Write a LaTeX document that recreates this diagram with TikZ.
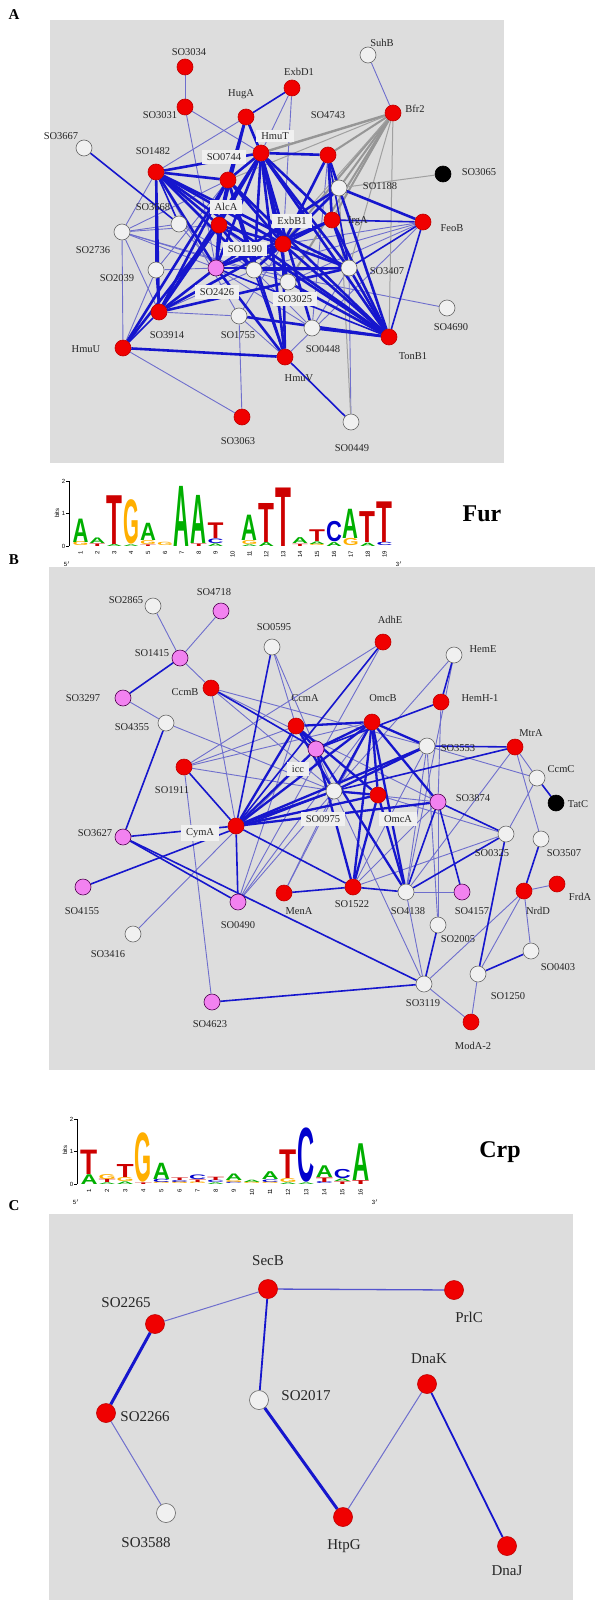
\documentclass[tikz,border=0pt]{standalone}
\usepackage{fontspec}
\setmainfont{Liberation Serif}
\newfontfamily\logofont{Liberation Sans}
\usepackage{graphicx}
\definecolor{bgg}{RGB}{221,221,221}
\definecolor{eb}{RGB}{22,22,205}
\definecolor{el}{RGB}{110,110,205}
\definecolor{eg}{RGB}{150,150,150}
\definecolor{nred}{RGB}{240,0,0}
\definecolor{npink}{RGB}{242,130,240}
\definecolor{nwhite}{RGB}{240,240,240}
\definecolor{lgA}{RGB}{0,175,0}
\definecolor{lgC}{RGB}{0,0,205}
\definecolor{lgG}{RGB}{255,175,0}
\definecolor{lgT}{RGB}{205,0,0}
\pgfdeclarelayer{bg}
\pgfdeclarelayer{edges}
\pgfsetlayers{bg,edges,main}
\newcommand\setlogo[4]{\def\LX{#1}\def\LW{#2}\def\LY{#3}\def\LB{#4}}
\newcommand\LL[5]{%
 \pgfmathsetmacro\lx{\LX+(#1-1)*\LW+0.5}%
 \pgfmathsetmacro\ly{\LY-(#2)*\LB}%
 \pgfmathsetmacro\lh{(#3)*\LB}%
 \pgfmathsetmacro\lw{\LW-1}%
 \node[inner sep=0,outer sep=0,anchor=south west,text=#5] at (\lx,\ly) {\resizebox{\lw pt}{\lh pt}{\logofont\bfseries #4}};}
\tikzset{
 nd/.style={circle,inner sep=0,minimum size=16pt,line width=0.6pt},
 rn/.style={nd,fill=nred,draw=red!75!black},
 wn/.style={nd,fill=nwhite,draw=gray!80!black},
 pn/.style={nd,fill=npink,draw=violet!60!black},
 kn/.style={nd,fill=black,draw=black},
 cr/.style={rn,minimum size=19pt},
 cw/.style={wn,minimum size=19pt},
 lab/.style={font=\fontsize{10.5}{12}\selectfont,inner sep=1pt,text=black!85},
 labb/.style={lab,fill=nwhite,inner xsep=5pt,inner ysep=3pt},
 labc/.style={font=\fontsize{15}{17}\selectfont,inner sep=1pt,text=black!85},
 panel/.style={font=\fontsize{15}{17}\selectfont\bfseries},
 ethick/.style={draw=eb,line width=2.6pt},
 emed/.style={draw=eb,line width=1.6pt},
 ethin/.style={draw=el,line width=0.9pt},
 egray/.style={draw=eg,line width=2pt},
 egthin/.style={draw=eg!90,line width=1pt},
 tf/.style={font=\fontsize{6}{7}\selectfont\logofont,inner sep=0.5pt},
 motif/.style={font=\fontsize{24}{26}\selectfont\bfseries}
}
\begin{document}
\begin{tikzpicture}[x=1pt,y=-1pt]
\useasboundingbox (0,0) rectangle (600,1600);
\begin{pgfonlayer}{bg}
\fill[white] (0,0) rectangle (600,1600);
\fill[bgg] (50,20) rectangle (504,463);
\fill[bgg] (49,567) rectangle (595,1070);
\fill[bgg] (49,1214) rectangle (573,1600);
\end{pgfonlayer}
\node[panel] (pA) at (14,15) {A};
\node[panel] (pB) at (14,560) {B};
\node[panel] (pC) at (14,1206) {C};

% ================= Panel A nodes
\node[rn] (SO3034) at (185,67) {};
\node[rn] (SO3031) at (185,107) {};
\node[rn] (HugA) at (246,117) {};
\node[rn] (ExbD1) at (292,88) {};
\node[wn] (SuhB) at (368,55) {};
\node[rn] (Bfr2) at (393,113) {};
\node[wn] (SO3667) at (84,148) {};
\node[rn] (SO1482) at (156,172) {};
\node[rn] (HmuT) at (261,153) {};
\node[rn] (SO0744) at (228,180) {};
\node[rn] (SO4743) at (328,155) {};
\node[kn] (SO3065) at (443,174) {};
\node[wn] (SO1188) at (339,188) {};
\node[wn] (SO3668) at (179,224) {};
\node[rn] (AlcA) at (219,225) {};
\node[rn] (ExbB1) at (283,244) {};
\node[rn] (IrgA) at (332,220) {};
\node[rn] (FeoB) at (423,222) {};
\node[wn] (SO2736) at (122,232) {};
\node[wn] (SO1190) at (254,270) {};
\node[wn] (SO2039) at (156,270) {};
\node[pn] (SO2426) at (216,268) {};
\node[wn] (SO3025) at (288,282) {};
\node[wn] (SO3407) at (349,268) {};
\node[wn] (SO4690) at (447,308) {};
\node[rn] (SO3914) at (159,312) {};
\node[wn] (SO1755) at (239,316) {};
\node[wn] (SO0448) at (312,328) {};
\node[rn] (TonB1) at (389,337) {};
\node[rn] (HmuU) at (123,348) {};
\node[rn] (HmuV) at (285,357) {};
\node[rn] (SO3063) at (242,417) {};
\node[wn] (SO0449) at (351,422) {};

% Panel A edges
\begin{pgfonlayer}{edges}
\foreach \a/\b in {SO3034/SO3031,SO3031/HmuT,SO3031/SO2426,HugA/SO1482,SuhB/Bfr2,ExbD1/HmuT,ExbD1/ExbB1,HmuU/SO3063,SO3063/SO1755,SO0449/SO3407,SO4690/SO1190,SO2736/SO1482,SO2736/SO0744,SO2736/AlcA,SO2736/SO2426,SO2736/SO1190,SO2736/SO3914,SO2736/SO3025,SO2736/SO3668,SO2039/HmuU,SO2039/SO0744,SO2039/SO2426,FeoB/SO1190,FeoB/SO3025,FeoB/HmuV,FeoB/ExbB1,SO1755/SO3914,SO1755/ExbB1,SO1755/SO1482,SO0448/SO4743,SO0448/SO2426,SO0448/SO1190,SO3025/SO3914,SO3025/SO1482,SO3668/SO1190,SO3668/SO2426,SO1190/SO3914,HmuV/SO1755,SO3407/SO3025,SO3407/SO0448,SO2736/HmuU}
 \draw[ethin] (\a) -- (\b);
\foreach \a/\b in {Bfr2/SO4743,Bfr2/SO1188,Bfr2/IrgA,Bfr2/ExbB1,Bfr2/SO3025}
 \draw[egray] (\a) -- (\b);
\draw[egray,line width=2.4pt] (Bfr2) -- (HmuT);
\foreach \a/\b in {Bfr2/SO3407,Bfr2/SO0744,Bfr2/TonB1,SO3065/SO1188,SO1188/SO0449,Bfr2/SO1190}
 \draw[egthin] (\a) -- (\b);
\foreach \a/\b in {HugA/ExbD1,SO3667/SO3668,SO1482/SO2039,SO2039/SO3914,FeoB/TonB1,FeoB/IrgA,FeoB/SO3407,HmuU/SO3914,TonB1/SO2426,HmuV/SO1190,SO0449/HmuV,SO1482/SO3668,SO4743/SO3407}
 \draw[emed] (\a) -- (\b);
\foreach \a/\b in {HugA/SO0744,HugA/HmuT,HugA/AlcA,SO1482/HmuT,SO1482/SO0744,SO1482/AlcA,SO1482/ExbB1,SO1482/SO2426,SO1482/SO1190,SO1482/TonB1,SO1482/SO3407,SO1482/SO3914,HmuT/SO0744,HmuT/AlcA,HmuT/ExbB1,HmuT/SO4743,HmuT/IrgA,HmuT/SO3407,HmuT/TonB1,HmuT/SO3914,HmuT/HmuV,HmuT/SO2426,HmuT/SO1190,HmuT/SO3025,HmuT/SO0448,SO0744/AlcA,SO0744/ExbB1,SO0744/SO3914,SO0744/TonB1,SO0744/SO2426,SO0744/HmuV,AlcA/ExbB1,AlcA/SO2426,AlcA/SO3914,AlcA/TonB1,AlcA/SO1190,ExbB1/IrgA,ExbB1/SO2426,ExbB1/SO3407,ExbB1/TonB1,ExbB1/SO1190,ExbB1/SO3914,ExbB1/HmuV,SO4743/SO1188,SO4743/IrgA,SO4743/ExbB1,IrgA/SO3407,IrgA/TonB1,IrgA/SO2426,FeoB/SO1188,SO3914/SO2426,SO3914/SO3407,HmuU/HmuV,HmuU/SO0744,HmuU/AlcA,SO3407/TonB1,SO3407/SO2426,SO3407/SO1190,TonB1/SO0448,TonB1/SO1755,TonB1/SO3025,HmuV/SO2426,SO1188/SO2426,SO1188/ExbB1,SO1188/TonB1,SO0744/SO1190}
 \draw[ethick] (\a) -- (\b);
\end{pgfonlayer}

% Panel A labels
\node[lab] (lSO3034) at (189,52) {SO3034};
\node[lab] (lSO3031) at (160,115) {SO3031};
\node[lab] (lHugA) at (241,94) {HugA};
\node[lab] (lExbD1) at (299,72) {ExbD1};
\node[lab] (lSuhB) at (382,43) {SuhB};
\node[lab] (lBfr2) at (415,109) {Bfr2};
\node[lab] (lSO3667) at (61,136) {SO3667};
\node[lab] (lSO1482) at (153,151) {SO1482};
\node[labb] (lHmuT) at (275,136) {HmuT};
\node[labb] (lSO0744) at (224,157) {SO0744};
\node[lab] (lSO4743) at (328,115) {SO4743};
\node[lab] (lSO3065) at (479,172) {SO3065};
\node[lab] (lSO1188) at (380,186) {SO1188};
\node[lab] (lSO3668) at (153,207) {SO3668};
\node[labb] (lAlcA) at (226,207) {AlcA};
\node[labb] (lExbB1) at (292,221) {ExbB1};
\node[lab] (lIrgA) at (358,221) {IrgA};
\node[lab] (lFeoB) at (452,228) {FeoB};
\node[lab] (lSO2736) at (93,250) {SO2736};
\node[labb] (lSO1190) at (245,249) {SO1190};
\node[lab] (lSO2039) at (117,278) {SO2039};
\node[labb] (lSO2426) at (217,292) {SO2426};
\node[labb] (lSO3025) at (295,299) {SO3025};
\node[lab] (lSO3407) at (387,271) {SO3407};
\node[lab] (lSO4690) at (451,327) {SO4690};
\node[lab] (lSO3914) at (167,335) {SO3914};
\node[lab] (lSO1755) at (238,335) {SO1755};
\node[lab] (lSO0448) at (323,349) {SO0448};
\node[lab] (lTonB1) at (413,356) {TonB1};
\node[lab] (lHmuU) at (86,349) {HmuU};
\node[lab] (lHmuV) at (299,378) {HmuV};
\node[lab] (lSO3063) at (238,441) {SO3063};
\node[lab] (lSO0449) at (352,448) {SO0449};

% ================= Fur logo
\setlogo{72}{16.9}{546}{32.5}
\draw[black,line width=0.5pt] (69,546) -- (69,481);
\foreach \v in {0,1,2}{\draw[black,line width=0.5pt] (66,546-\v*32.5) -- (69,546-\v*32.5);
 \node[tf,anchor=east] at (66,546-\v*32.5) {\v};}
\node[tf,rotate=90] (furbits) at (57,513) {bits};
\foreach \i in {1,...,19}{\node[tf,rotate=90,anchor=east] at (72+\i*16.9-8.45,550) {\i};}
\node[tf] (fur5) at (67,564) {5$'$};
\node[tf] (fur3) at (399,564) {3$'$};
\LL{1}{0}{0.12}{G}{lgG}\LL{1}{0.12}{0.72}{A}{lgA}
\LL{2}{0}{0.08}{T}{lgT}\LL{2}{0.08}{0.17}{A}{lgA}
\LL{3}{0}{0.06}{A}{lgA}\LL{3}{0.06}{1.5}{T}{lgT}
\LL{4}{0}{0.05}{A}{lgA}\LL{4}{0.05}{1.35}{G}{lgG}
\LL{5}{0}{0.05}{T}{lgT}\LL{5}{0.05}{0.12}{G}{lgG}\LL{5}{0.17}{0.53}{A}{lgA}
\LL{6}{0}{0.1}{G}{lgG}
\LL{7}{0}{1.85}{A}{lgA}
\LL{8}{0}{0.08}{T}{lgT}\LL{8}{0.08}{1.48}{A}{lgA}
\LL{9}{0}{0.08}{A}{lgA}\LL{9}{0.08}{0.14}{C}{lgC}\LL{9}{0.22}{0.48}{T}{lgT}
\LL{11}{0}{0.05}{A}{lgA}\LL{11}{0.05}{0.12}{G}{lgG}\LL{11}{0.17}{0.78}{A}{lgA}
\LL{12}{0}{0.12}{A}{lgA}\LL{12}{0.12}{1.2}{T}{lgT}
\LL{13}{0}{1.8}{T}{lgT}
\LL{14}{0}{0.07}{T}{lgT}\LL{14}{0.07}{0.18}{A}{lgA}
\LL{15}{0}{0.06}{G}{lgG}\LL{15}{0.06}{0.08}{A}{lgA}\LL{15}{0.14}{0.36}{T}{lgT}
\LL{16}{0}{0.12}{A}{lgA}\LL{16}{0.12}{0.62}{C}{lgC}
\LL{17}{0}{0.22}{G}{lgG}\LL{17}{0.22}{0.9}{A}{lgA}
\LL{18}{0}{0.1}{A}{lgA}\LL{18}{0.1}{0.95}{T}{lgT}
\LL{19}{0}{0.1}{C}{lgC}\LL{19}{0.1}{1.25}{T}{lgT}
\node[motif] (fur) at (482,514) {Fur};

% ================= Panel B nodes
\node[wn] (SO2865) at (153,606) {};
\node[pn] (SO4718) at (221,611) {};
\node[wn] (SO0595) at (272,647) {};
\node[rn] (AdhE) at (383,642) {};
\node[wn] (HemE) at (454,655) {};
\node[pn] (SO1415) at (180,658) {};
\node[rn] (CcmB) at (211,688) {};
\node[pn] (SO3297) at (123,698) {};
\node[rn] (CcmA) at (296,726) {};
\node[rn] (OmcB) at (372,722) {};
\node[rn] (HemH1) at (441,702) {};
\node[wn] (SO4355) at (166,723) {};
\node[wn] (SO3553) at (427,746) {};
\node[rn] (MtrA) at (515,747) {};
\node[wn] (CcmC) at (537,778) {};
\node[kn] (TatC) at (556,803) {};
\node[pn] (iccN) at (316,749) {};
\node[rn] (SO1911) at (184,767) {};
\node[wn] (SO0975) at (334,791) {};
\node[rn] (OmcA) at (378,795) {};
\node[pn] (SO3874) at (438,802) {};
\node[rn] (CymA) at (236,826) {};
\node[pn] (SO3627) at (123,837) {};
\node[wn] (SO0325) at (506,834) {};
\node[wn] (SO3507) at (541,839) {};
\node[pn] (SO4155) at (83,887) {};
\node[pn] (SO0490) at (238,902) {};
\node[rn] (MenA) at (284,893) {};
\node[rn] (SO1522) at (353,887) {};
\node[wn] (SO4138) at (406,892) {};
\node[pn] (SO4157) at (462,892) {};
\node[rn] (NrdD) at (524,891) {};
\node[rn] (FrdA) at (557,884) {};
\node[wn] (SO2005) at (438,925) {};
\node[wn] (SO3416) at (133,934) {};
\node[wn] (SO0403) at (531,951) {};
\node[wn] (SO1250) at (478,974) {};
\node[wn] (SO3119) at (424,984) {};
\node[pn] (SO4623) at (212,1002) {};
\node[rn] (ModA2) at (471,1022) {};

\begin{pgfonlayer}{edges}
\foreach \a/\b in {SO2865/SO1415,SO4718/SO1415,SO1415/CcmB,SO3297/SO4355,SO4355/SO0975,CcmB/SO3553,CcmB/SO3874,CcmB/CymA,SO0595/SO0975,SO1911/CcmA,SO1911/SO0975,SO1911/OmcB,AdhE/SO1911,AdhE/SO0490,HemE/SO0975,HemE/SO4138,HemH1/SO3874,SO3416/iccN,SO4623/SO1911,SO0490/CcmA,SO0490/SO0975,SO0490/OmcB,MenA/SO0975,MenA/OmcB,SO4138/SO4157,SO4138/SO3119,SO2005/SO3553,SO2005/SO3874,CcmC/SO3553,CcmC/SO0325,CcmC/MtrA,MtrA/SO3507,MtrA/SO4138,NrdD/FrdA,NrdD/SO0403,NrdD/SO1250,NrdD/SO3119,SO1250/ModA2,SO3119/ModA2,SO3119/SO0975,SO0325/SO1522,SO0325/OmcA,SO3553/SO4138,SO3553/SO1522,SO3874/SO0975,SO3874/SO1522,CcmB/SO0975,SO0595/CcmA}
 \draw[ethin] (\a) -- (\b);
\foreach \a/\b in {SO1415/SO3297,SO4355/SO3627,CcmB/iccN,SO0595/CymA,SO3627/CymA,SO3627/SO0490,SO3627/SO3119,SO4155/SO0975,SO4623/SO3119,CymA/SO0490,MenA/SO1522,SO1522/SO4138,SO4138/SO0325,SO4138/SO3874,SO3874/SO4157,SO2005/SO3119,SO0325/SO1250,SO3507/NrdD,SO0403/SO1250,CcmC/TatC,MtrA/SO3553,MtrA/SO0975,HemE/HemH1,HemH1/iccN,AdhE/CymA,SO1911/CymA,CymA/SO1522,SO3874/SO0325}
 \draw[emed] (\a) -- (\b);
\foreach \a/\b in {CymA/CcmA,CymA/OmcB,CymA/SO0975,CymA/OmcA,CymA/iccN,CymA/SO3553,CymA/SO3874,OmcB/SO0975,OmcB/OmcA,OmcB/iccN,OmcB/SO1522,OmcB/SO4138,OmcB/SO3874,OmcB/SO3553,OmcB/CcmA,CcmA/SO0975,CcmA/iccN,CcmA/OmcA,SO0975/OmcA,SO0975/SO3553,OmcA/SO1522,OmcA/SO4138,iccN/SO4138,iccN/SO1522}
 \draw[ethick,line width=2.3pt] (\a) -- (\b);
\end{pgfonlayer}

\node[lab] (lSO2865) at (126,600) {SO2865};
\node[lab] (lSO4718) at (214,592) {SO4718};
\node[lab] (lSO0595) at (274,627) {SO0595};
\node[lab] (lAdhE) at (390,620) {AdhE};
\node[lab] (lHemE) at (483,649) {HemE};
\node[lab] (lSO1415) at (152,653) {SO1415};
\node[lab] (lCcmB) at (185,692) {CcmB};
\node[lab] (lSO3297) at (83,698) {SO3297};
\node[lab] (lCcmA) at (305,698) {CcmA};
\node[lab] (lOmcB) at (383,698) {OmcB};
\node[lab] (lHemH1) at (480,698) {HemH-1};
\node[lab] (lSO4355) at (132,727) {SO4355};
\node[lab] (lMtrA) at (531,733) {MtrA};
\node[lab] (lSO3553) at (458,748) {SO3553};
\node[labb] (licc) at (298,769) {icc};
\node[lab] (lCcmC) at (561,769) {CcmC};
\node[lab] (lSO1911) at (172,790) {SO1911};
\node[lab] (lSO3874) at (473,798) {SO3874};
\node[lab] (lTatC) at (578,804) {TatC};
\node[labb] (lSO0975) at (323,819) {SO0975};
\node[labb] (lOmcA) at (398,819) {OmcA};
\node[labb] (lCymA) at (200,833) {CymA};
\node[lab] (lSO3627) at (95,833) {SO3627};
\node[lab] (lSO0325) at (492,853) {SO0325};
\node[lab] (lSO3507) at (564,853) {SO3507};
\node[lab] (lSO4155) at (82,911) {SO4155};
\node[lab] (lMenA) at (299,911) {MenA};
\node[lab] (lSO1522) at (352,904) {SO1522};
\node[lab] (lSO4138) at (408,911) {SO4138};
\node[lab] (lSO4157) at (472,911) {SO4157};
\node[lab] (lNrdD) at (538,911) {NrdD};
\node[lab] (lFrdA) at (580,897) {FrdA};
\node[lab] (lSO0490) at (238,925) {SO0490};
\node[lab] (lSO3416) at (108,954) {SO3416};
\node[lab] (lSO2005) at (458,939) {SO2005};
\node[lab] (lSO0403) at (558,967) {SO0403};
\node[lab] (lSO1250) at (508,996) {SO1250};
\node[lab] (lSO3119) at (423,1003) {SO3119};
\node[lab] (lSO4623) at (210,1024) {SO4623};
\node[lab] (lModA2) at (473,1046) {ModA-2};

% ================= Crp logo
\setlogo{80}{18.1}{1184}{32.5}
\draw[black,line width=0.5pt] (77,1184) -- (77,1119);
\foreach \v in {0,1,2}{\draw[black,line width=0.5pt] (74,1184-\v*32.5) -- (77,1184-\v*32.5);
 \node[tf,anchor=east] at (74,1184-\v*32.5) {\v};}
\node[tf,rotate=90] (crpbits) at (65,1150) {bits};
\foreach \i in {1,...,16}{\node[tf,rotate=90,anchor=east] at (80+\i*18.1-9.05,1188) {\i};}
\node[tf] (crp5) at (76,1202) {5$'$};
\node[tf] (crp3) at (375,1202) {3$'$};
\LL{1}{0}{0.3}{A}{lgA}\LL{1}{0.3}{0.75}{T}{lgT}
\LL{2}{0}{0.05}{A}{lgA}\LL{2}{0.05}{0.1}{T}{lgT}\LL{2}{0.15}{0.15}{G}{lgG}
\LL{3}{0}{0.08}{A}{lgA}\LL{3}{0.08}{0.12}{G}{lgG}\LL{3}{0.2}{0.4}{T}{lgT}
\LL{4}{0}{0.05}{T}{lgT}\LL{4}{0.05}{1.5}{G}{lgG}
\LL{5}{0}{0.05}{G}{lgG}\LL{5}{0.05}{0.1}{C}{lgC}\LL{5}{0.15}{0.5}{A}{lgA}
\LL{6}{0}{0.06}{G}{lgG}\LL{6}{0.06}{0.06}{C}{lgC}\LL{6}{0.12}{0.08}{T}{lgT}
\LL{7}{0}{0.05}{G}{lgG}\LL{7}{0.05}{0.08}{T}{lgT}\LL{7}{0.13}{0.14}{C}{lgC}
\LL{8}{0}{0.05}{A}{lgA}\LL{8}{0.05}{0.07}{C}{lgC}\LL{8}{0.12}{0.1}{T}{lgT}
\LL{9}{0}{0.05}{C}{lgC}\LL{9}{0.05}{0.06}{G}{lgG}\LL{9}{0.11}{0.2}{A}{lgA}
\LL{10}{0}{0.05}{G}{lgG}\LL{10}{0.05}{0.07}{A}{lgA}
\LL{11}{0}{0.05}{G}{lgG}\LL{11}{0.05}{0.08}{C}{lgC}\LL{11}{0.13}{0.24}{A}{lgA}
\LL{12}{0}{0.05}{A}{lgA}\LL{12}{0.05}{0.12}{G}{lgG}\LL{12}{0.17}{0.88}{T}{lgT}
\LL{13}{0}{0.05}{A}{lgA}\LL{13}{0.05}{1.65}{C}{lgC}
\LL{14}{0}{0.06}{C}{lgC}\LL{14}{0.06}{0.14}{T}{lgT}\LL{14}{0.2}{0.36}{A}{lgA}
\LL{15}{0}{0.08}{T}{lgT}\LL{15}{0.08}{0.08}{A}{lgA}\LL{15}{0.16}{0.28}{C}{lgC}
\LL{16}{0}{0.12}{T}{lgT}\LL{16}{0.12}{1.13}{A}{lgA}
\node[motif] (crp) at (500,1152) {Crp};

% ================= Panel C
\node[cr] (SecB) at (268,1289) {};
\node[cr] (PrlC) at (454,1290) {};
\node[cr] (SO2265) at (155,1324) {};
\node[cr] (SO2266) at (106,1413) {};
\node[cw] (SO3588) at (166,1513) {};
\node[cw] (SO2017) at (259,1400) {};
\node[cr] (DnaK) at (427,1384) {};
\node[cr] (HtpG) at (343,1517) {};
\node[cr] (DnaJ) at (507,1546) {};
\begin{pgfonlayer}{edges}
\foreach \a/\b in {SecB/SO2265,SO2266/SO3588,HtpG/DnaK}
 \draw[ethin,line width=1pt] (\a) -- (\b);
\draw[draw=el!70!eb,line width=1.3pt] (SecB) -- (PrlC);
\foreach \a/\b in {SecB/SO2017,DnaK/DnaJ}
 \draw[emed,line width=1.8pt] (\a) -- (\b);
\foreach \a/\b in {SO2265/SO2266,SO2017/HtpG}
 \draw[ethick,line width=3pt] (\a) -- (\b);
\end{pgfonlayer}
\node[labc] (lSecB) at (268,1261) {SecB};
\node[labc] (lPrlC) at (469,1317) {PrlC};
\node[labc] (lSO2265) at (126,1303) {SO2265};
\node[labc] (lSO2266) at (145,1417) {SO2266};
\node[labc] (lSO3588) at (146,1543) {SO3588};
\node[labc] (lSO2017) at (306,1396) {SO2017};
\node[labc] (lDnaK) at (429,1359) {DnaK};
\node[labc] (lHtpG) at (344,1546) {HtpG};
\node[labc] (lDnaJ) at (507,1571) {DnaJ};
\end{tikzpicture}
\end{document}
